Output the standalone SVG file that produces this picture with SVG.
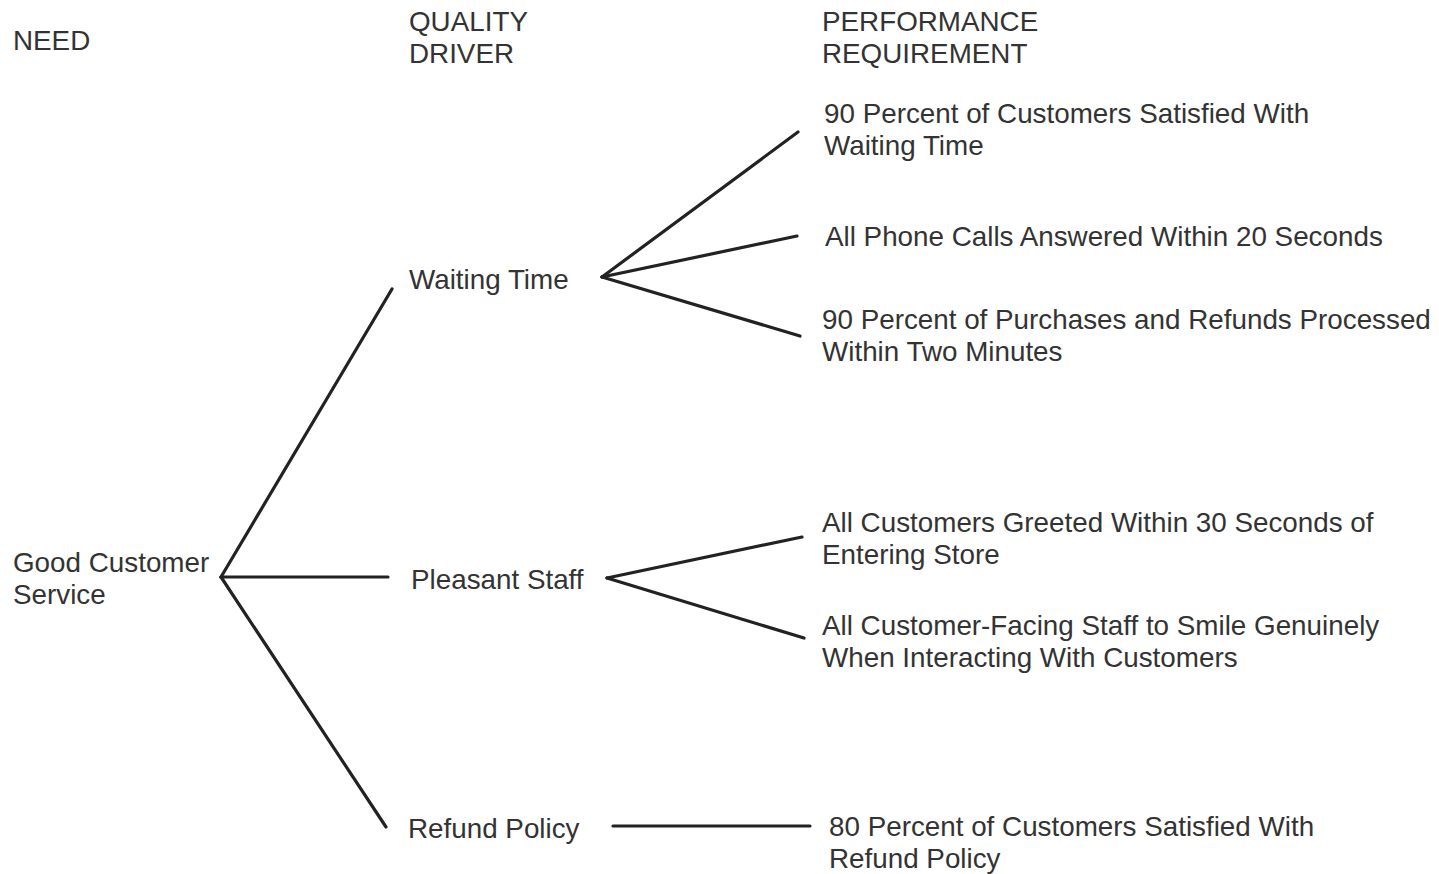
<svg xmlns="http://www.w3.org/2000/svg" width="1439" height="874" viewBox="0 0 1439 874">
<style>
text{font-family:"Liberation Sans",Arial,sans-serif;font-size:27.8px;fill:#333}
.c line{stroke:#222;stroke-width:3.2;stroke-linecap:round}
</style>
<rect width="1439" height="874" fill="#fff"/>
<g id="headers">
<text x="13" y="50">NEED</text>
<text x="409" y="31">QUALITY</text>
<text x="409" y="63">DRIVER</text>
<text x="822" y="31">PERFORMANCE</text>
<text x="822" y="63">REQUIREMENT</text>
</g>
<g id="need"><text x="13" y="572">Good Customer</text><text x="13" y="604">Service</text></g>
<g id="waiting"><text x="409" y="289">Waiting Time</text></g>
<g id="pleasant"><text x="411" y="589">Pleasant Staff</text></g>
<g id="refund"><text x="408" y="838">Refund Policy</text></g>
<g id="req1"><text x="824" y="123">90 Percent of Customers Satisfied With</text><text x="824" y="155">Waiting Time</text></g>
<g id="req2"><text x="825" y="246">All Phone Calls Answered Within 20 Seconds</text></g>
<g id="req3"><text x="822" y="329">90 Percent of Purchases and Refunds Processed</text><text x="822" y="361">Within Two Minutes</text></g>
<g id="req4"><text x="822" y="532">All Customers Greeted Within 30 Seconds of</text><text x="822" y="564">Entering Store</text></g>
<g id="req5"><text x="822" y="635">All Customer-Facing Staff to Smile Genuinely</text><text x="822" y="667">When Interacting With Customers</text></g>
<g id="req6"><text x="829" y="836">80 Percent of Customers Satisfied With</text><text x="829" y="868">Refund Policy</text></g>
<g id="connectors" class="c">
<line x1="221" y1="577" x2="392" y2="289"/>
<line x1="221" y1="577" x2="388" y2="577"/>
<line x1="221" y1="577" x2="386" y2="827"/>
<line x1="602" y1="277" x2="798" y2="132"/>
<line x1="602" y1="277" x2="797" y2="236"/>
<line x1="602" y1="277" x2="800" y2="336"/>
<line x1="607" y1="578" x2="802" y2="537"/>
<line x1="607" y1="578" x2="804" y2="638"/>
<line x1="613" y1="826" x2="810" y2="826"/>
</g>
</svg>
